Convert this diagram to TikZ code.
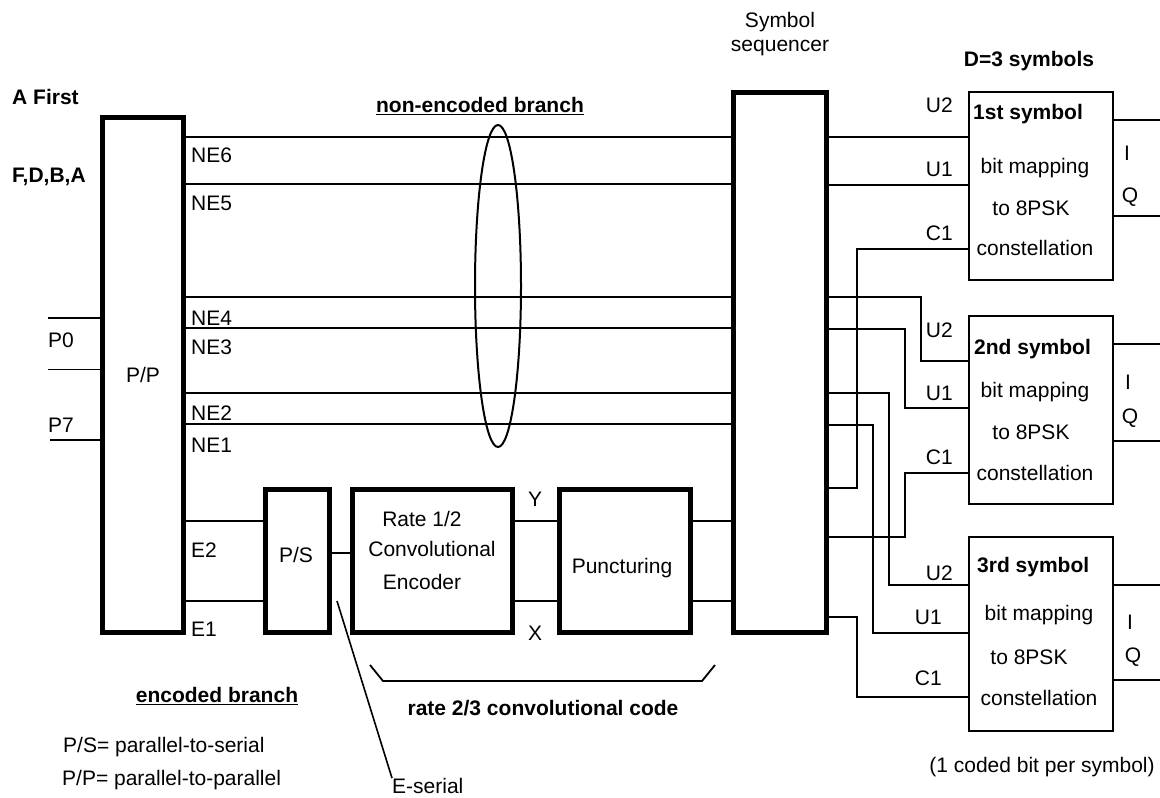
\documentclass[tikz,border=0pt]{standalone}
\usepackage{fontspec}
\setmainfont{Liberation Sans}

\begin{document}
\begin{tikzpicture}[x=1pt, y=-1pt,
  every node/.style={font=\fontsize{21}{25}\selectfont, inner sep=0pt},
  heavybox/.style={draw, line width=4.5pt},
  lightbox/.style={draw, line width=2.4pt},
  wire/.style={line width=2pt},
  bold/.style={font=\fontsize{21}{25}\selectfont\bfseries}]

\useasboundingbox (0,0) rectangle (1160,798);

\node[heavybox, minimum width=81pt, minimum height=515pt] at (143,375) (pp) {P/P};
\node[heavybox, minimum width=64pt, minimum height=143pt] at (297.5,561) (ps) {};
\node[heavybox, minimum width=160pt, minimum height=143pt] at (432.5,561) (enc) {};
\node[heavybox, minimum width=131pt, minimum height=143pt] at (625,561) (punc) {};
\node[heavybox, minimum width=93pt, minimum height=540pt] at (780,362.5) (seq) {};
\node[lightbox, minimum width=144pt, minimum height=188pt] at (1041,186) (sym1) {};
\node[lightbox, minimum width=144pt, minimum height=188pt] at (1041,410) (sym2) {};
\node[lightbox, minimum width=144pt, minimum height=194pt] at (1041,634) (sym3) {};

% inputs of P/P
\coordinate (pzero) at (48,318);
\coordinate (pmid) at (48,369);
\coordinate (pseven) at (50,440);
\draw[wire] (pzero) -- (pp.west |- pzero);
\draw[line width=1pt] (pmid) -- (pp.west |- pmid);
\draw[wire] (pseven) -- (pp.west |- pseven);

% non-encoded branch
\foreach \y in {137,184,297,328,393,424}
  \draw[wire] (pp.east |- 0,\y) -- (seq.west |- 0,\y);
\draw[wire] (498,286) ellipse [x radius=23, y radius=161];

% encoded branch
\foreach \y in {521,601}
  \draw[wire] (pp.east |- 0,\y) -- (ps.west |- 0,\y);
\draw[wire] (ps.east |- 0,553) -- (enc.west |- 0,553);
\foreach \y in {521,601} {
  \draw[wire] (enc.east |- 0,\y) -- (punc.west |- 0,\y);
  \draw[wire] (punc.east |- 0,\y) -- (seq.west |- 0,\y);
}

% sequencer to mappers
\draw[wire] (seq.east |- 0,137) -- (sym1.west |- 0,137);
\draw[wire] (seq.east |- 0,185) -- (sym1.west |- 0,185);
\draw[wire] (seq.east |- 0,488) -| (857,249) -- (sym1.west |- 0,249);
\draw[wire] (seq.east |- 0,297) -| (921,361) -- (sym2.west |- 0,361);
\draw[wire] (seq.east |- 0,329) -| (905,408) -- (sym2.west |- 0,408);
\draw[wire] (seq.east |- 0,537) -| (905,473) -- (sym2.west |- 0,473);
\draw[wire] (seq.east |- 0,393) -| (889,585) -- (sym3.west |- 0,585);
\draw[wire] (seq.east |- 0,425) -| (873,633) -- (sym3.west |- 0,633);
\draw[wire] (seq.east |- 0,617) -| (857,697) -- (sym3.west |- 0,697);

\foreach \s/\i/\q in {sym1/120/216, sym2/344/441, sym3/585/680} {
  \draw[wire] (\s.east |- 0,\i) -- ++(50,0);
  \draw[wire] (\s.east |- 0,\q) -- ++(50,0);
}

\draw[line width=1.8pt] (370,665) -- (383,681) -- (702,681) -- (715,665);

\coordinate (serialtap) at (337,601);
\node[anchor=west] at (392,786) (eserial) {E-serial};
\draw[line width=1.6pt] (serialtap) -- (eserial.north west);

% labels
\node[bold, anchor=west] at (12,97) (first) {A First};
\node[bold, anchor=west] at (12,177) (order) {F,D,B,A};
\node[anchor=west] at (48,340) (lpzero) {P0};
\node[anchor=west] at (48,425) (lpseven) {P7};

\node[anchor=west] at (191,155) (ne6) {NE6};
\node[anchor=west] at (191,203) (ne5) {NE5};
\node[anchor=west] at (191,318) (ne4) {NE4};
\node[anchor=west] at (191,347) (ne3) {NE3};
\node[anchor=west] at (191,413) (ne2) {NE2};
\node[anchor=west] at (191,445) (ne1) {NE1};
\node[anchor=west] at (191,550) (e2) {E2};
\node[anchor=west] at (191,629) (e1) {E1};

\node at (296,555) (pst) {P/S};
\node at (422,519) (encA) {Rate 1/2};
\node at (432,549) (encB) {Convolutional};
\node at (422,582) (encC) {Encoder};
\node at (535,499) (ly) {Y};
\node at (535,633) (lx) {X};
\node at (622,568) (punct) {Puncturing};

\node[bold] at (480,106) (nonenc) {\underline{non-encoded branch}};
\node at (780,22) (seqA) {Symbol};
\node at (780,48) (seqB) {sequencer};
\node[bold] at (1029,61) (dsym) {D=3 symbols};

\node[anchor=east] at (953,105) (aU2) {U2};
\node[anchor=east] at (953,169) (aU1) {U1};
\node[anchor=east] at (953,233) (aC1) {C1};
\node[anchor=east] at (953,330) (bU2) {U2};
\node[anchor=east] at (953,393) (bU1) {U1};
\node[anchor=east] at (953,457) (bC1) {C1};
\node[anchor=east] at (953,573) (cU2) {U2};
\node[anchor=east] at (942,617) (cU1) {U1};
\node[anchor=east] at (942,678) (cC1) {C1};

\node[bold, anchor=west] at (973,114) (aname) {1st symbol};
\node at (1035,168) (amap) {bit mapping};
\node at (1031,208) (ato) {to 8PSK};
\node at (1035,248) (acon) {constellation};
\node[bold, anchor=west] at (974,349) (bname) {2nd symbol};
\node at (1035,392) (bmap) {bit mapping};
\node at (1031,432) (bto) {to 8PSK};
\node at (1035,473) (bcon) {constellation};
\node[bold, anchor=west] at (977,567) (cname) {3rd symbol};
\node at (1039,615) (cmap) {bit mapping};
\node at (1029,657) (cto) {to 8PSK};
\node at (1039,698) (ccon) {constellation};

\node at (1127,153) (aI) {I};
\node at (1130,197) (aQ) {Q};
\node at (1128,382) (bI) {I};
\node at (1130,418) (bQ) {Q};
\node at (1130,622) (cI) {I};
\node at (1133,657) (cQ) {Q};

\node at (1042,767) (perbit) {(1 coded bit per symbol)};
\node[bold] at (543,708) (rate) {rate 2/3 convolutional code};
\node[bold] at (217,696) (encbr) {\underline{encoded branch}};
\node[anchor=west] at (63,747) (keyps) {P/S= parallel-to-serial};
\node[anchor=west] at (62,780) (keypp) {P/P= parallel-to-parallel};

\end{tikzpicture}
\end{document}
